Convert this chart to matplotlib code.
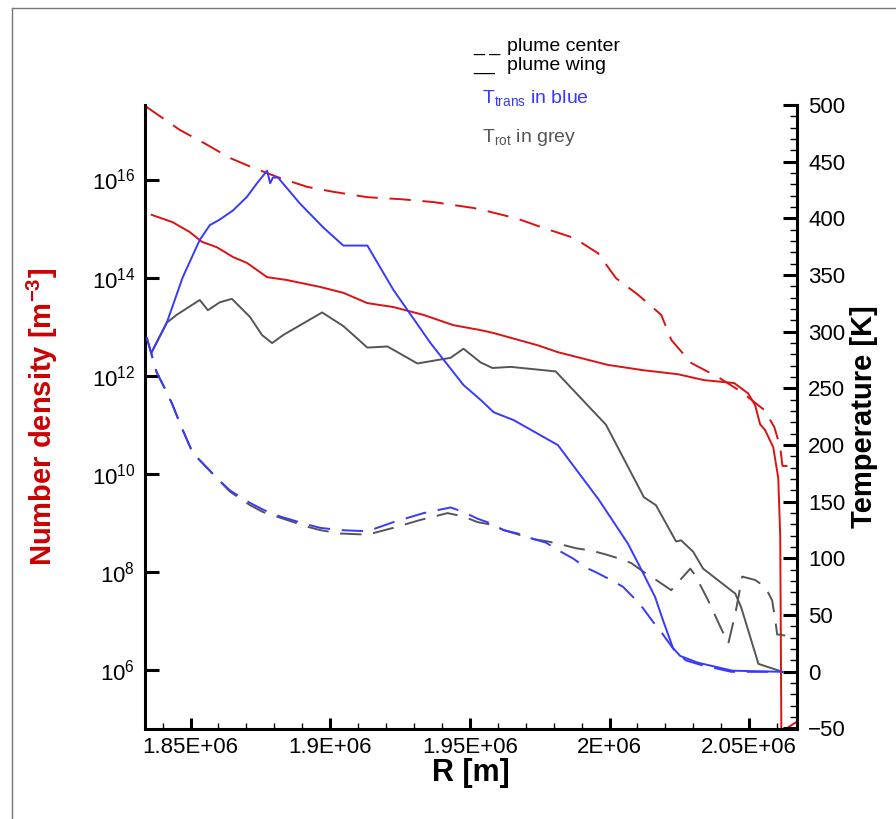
import matplotlib
matplotlib.use('Agg')
import numpy as np
import matplotlib.pyplot as plt
from matplotlib.lines import Line2D
from matplotlib.ticker import MultipleLocator, NullLocator, FixedLocator

plt.rcParams['font.family'] = ['Liberation Sans', 'DejaVu Sans']
plt.rcParams['mathtext.fontset'] = 'custom'
plt.rcParams['mathtext.rm'] = 'Liberation Sans'
plt.rcParams['mathtext.it'] = 'Liberation Sans:italic'
plt.rcParams['mathtext.bf'] = 'Liberation Sans:bold'

# R in units of 1e6 m, density as log10(n [m^-3]), temperatures in K

# number density, plume center (red dashed)
r_center_n = [1.8340, 1.8462, 1.8559, 1.8641, 1.8724, 1.8821, 1.8918, 1.9011, 1.9133, 1.9251,
              1.9370, 1.9513, 1.9574, 1.9671, 1.9765, 1.9872, 1.9958, 2.0023, 2.0102, 2.0185,
              2.0221, 2.0292, 2.0389, 2.0472, 2.0554, 2.0590, 2.0611, 2.0619, 2.0637]
logn_center = [17.49, 17.01, 16.71, 16.44, 16.24, 16.03, 15.85, 15.75, 15.64, 15.60,
               15.54, 15.42, 15.34, 15.20, 15.01, 14.81, 14.50, 13.99, 13.65, 13.24,
               12.73, 12.26, 11.97, 11.67, 11.30, 10.95, 10.54, 10.16, 10.16]

# number density, plume wing (red solid)
r_wing_n = [1.8361, 1.8436, 1.8497, 1.8541, 1.8594, 1.8652, 1.8702, 1.8774, 1.8846, 1.8964,
            1.9047, 1.9133, 1.9226, 1.9334, 1.9441, 1.9538, 1.9585, 1.9743, 1.9815, 1.9994,
            2.0123, 2.0245, 2.0338, 2.0446, 2.0496, 2.0521, 2.0539, 2.0557, 2.0586, 2.0604,
            2.0611, 2.0615, 2.0680]
logn_wing = [15.28, 15.13, 14.93, 14.73, 14.62, 14.42, 14.30, 14.01, 13.95, 13.81,
             13.69, 13.48, 13.40, 13.24, 13.03, 12.93, 12.87, 12.62, 12.48, 12.22,
             12.11, 12.03, 11.91, 11.85, 11.64, 11.40, 11.01, 10.89, 10.54, 9.91,
             8.72, 4.74, 4.98]

# T_trans, plume wing (blue solid)
r_ttrans_wing = [1.8361, 1.8415, 1.8472, 1.8533, 1.8569, 1.8605, 1.8652, 1.8702, 1.8738, 1.8774,
                 1.8785, 1.8795, 1.8813, 1.8892, 1.8975, 1.9047, 1.9133, 1.9226, 1.9359, 1.9477,
                 1.9538, 1.9585, 1.9657, 1.9815, 1.9961, 2.0066, 2.0112, 2.0163, 2.0192, 2.0227,
                 2.0253, 2.0317, 2.0440, 2.0619]
t_trans_wing = [282, 308, 348, 381, 394, 399, 407, 419, 431, 442,
                431, 436, 436, 413, 392, 376, 376, 337, 290, 253,
                240, 229, 222, 200, 152, 113, 91, 66, 45, 21,
                14, 8, 1, 0]

# T_rot, plume wing (grey solid)
r_trot_wing = [1.8361, 1.8415, 1.8451, 1.8533, 1.8562, 1.8605, 1.8648, 1.8713, 1.8756, 1.8792,
               1.8831, 1.8971, 1.9047, 1.9133, 1.9205, 1.9312, 1.9431, 1.9477, 1.9538, 1.9581,
               1.9646, 1.9807, 1.9987, 2.0123, 2.0166, 2.0238, 2.0256, 2.0299, 2.0335, 2.0450,
               2.0471, 2.0533, 2.0619]
t_rot_wing = [282, 308, 315, 328, 319, 326, 329, 313, 297, 290,
              297, 317, 305, 286, 287, 272, 277, 285, 273, 268,
              269, 265, 218, 154, 147, 115, 116, 106, 91, 69,
              57, 7, 0]

# T_rot, plume center (grey dashed)
r_trot_center = [1.8343, 1.8379, 1.8408, 1.8433, 1.8469, 1.8508, 1.8559, 1.8594, 1.8641, 1.8713,
                 1.8759, 1.8820, 1.8918, 1.8964, 1.9036, 1.9133, 1.9226, 1.9323, 1.9420, 1.9477,
                 1.9528, 1.9574, 1.9621, 1.9729, 1.9779, 1.9833, 1.9880, 1.9933, 1.9980, 2.0034,
                 2.0077, 2.0123, 2.0149, 2.0221, 2.0238, 2.0289, 2.0307, 2.0353, 2.0396, 2.0425,
                 2.0450, 2.0475, 2.0521, 2.0557, 2.0582, 2.0593, 2.0600, 2.0629]
t_rot_center = [295, 264, 250, 237, 215, 193, 180, 171, 159, 147,
                141, 136, 128, 125, 122, 121, 127, 134, 140, 137,
                132, 130, 125, 117, 115, 112, 109, 107, 104, 100,
                96, 88, 84, 72, 77, 91, 85, 63, 40, 25,
                51, 84, 81, 75, 63, 46, 33, 32]

# T_trans, plume center (blue dashed)
r_ttrans_center = [1.8343, 1.8379, 1.8408, 1.8433, 1.8469, 1.8508, 1.8559, 1.8594, 1.8641, 1.8713,
                   1.8760, 1.8821, 1.8917, 1.8964, 1.9036, 1.9133, 1.9226, 1.9334, 1.9431, 1.9477,
                   1.9528, 1.9574, 1.9621, 1.9671, 1.9729, 1.9772, 1.9818, 1.9869, 1.9915, 1.9958,
                   2.0005, 2.0048, 2.0088, 2.0120, 2.0156, 2.0185, 2.0235, 2.0274, 2.0328, 2.0436,
                   2.0619]
t_trans_center = [295, 264, 250, 237, 215, 193, 180, 171, 160, 149,
                  143, 137, 130, 127, 125, 124, 132, 140, 145, 141,
                  135, 131, 125, 122, 117, 114, 107, 100, 92, 87,
                  81, 75, 65, 56, 44, 35, 18, 10, 6, 0,
                  0]

x_ticks = [1.85e6, 1.90e6, 1.95e6, 2.00e6, 2.05e6]
x_tick_labels = ['1.85E+06', '1.9E+06', '1.95E+06', '2E+06', '2.05E+06']
n_ticks = [1e6, 1e8, 1e10, 1e12, 1e14, 1e16]

RED = '#dd1111'
BLUE = '#3838ff'
GREY = '#555555'
DASH = (0, (11, 6))
LW = 1.4

W, H = 896, 819
fig = plt.figure(figsize=(W / 100, H / 100), dpi=100)
ax = fig.add_axes([145 / W, 1 - 728.5 / H, (797 - 145) / W, (728.5 - 105) / H])
ax2 = ax.twinx()

mega = 1e6
ax.plot(np.array(r_center_n) * mega, 10.0 ** np.array(logn_center), color=RED, lw=LW, ls=DASH)
ax.plot(np.array(r_wing_n) * mega, 10.0 ** np.array(logn_wing), color=RED, lw=LW)

ax2.plot(np.array(r_trot_center) * mega, t_rot_center, color=GREY, lw=LW, ls=DASH)
ax2.plot(np.array(r_ttrans_center) * mega, t_trans_center, color=BLUE, lw=LW, ls=DASH)
ax2.plot(np.array(r_trot_wing) * mega, t_rot_wing, color=GREY, lw=LW)
ax2.plot(np.array(r_ttrans_wing) * mega, t_trans_wing, color=BLUE, lw=LW)

ax.set_yscale('log')
ax.set_ylim(10 ** 4.806, 10 ** 17.52)
ax.set_xlim(1.8337e6, 2.0671e6)
ax2.set_ylim(-50, 500)

ax.set_xticks(x_ticks)
ax.set_xticklabels(x_tick_labels)
ax.xaxis.set_minor_locator(MultipleLocator(1e4))
ax.yaxis.set_major_locator(FixedLocator(n_ticks))
ax.yaxis.set_minor_locator(NullLocator())
ax2.yaxis.set_major_locator(MultipleLocator(50))
ax2.yaxis.set_minor_locator(MultipleLocator(10))

for a in (ax, ax2):
    a.spines['top'].set_visible(False)
    for s in a.spines.values():
        s.set_linewidth(2.2)
ax.spines['right'].set_visible(False)
ax2.spines['left'].set_visible(False)
ax2.spines['bottom'].set_visible(False)

ax.tick_params(axis='both', which='major', direction='in', length=10, width=2.2,
               labelsize=16, pad=7)
ax.tick_params(axis='both', which='minor', direction='in', length=5, width=1)
ax.tick_params(axis='x', which='major', length=8, pad=6)
ax.tick_params(axis='x', which='minor', length=4)
ax2.tick_params(axis='y', which='major', direction='in', length=10, width=2.2,
                labelsize=16, pad=8)
ax2.tick_params(axis='y', which='minor', direction='in', length=5, width=1)

ax.set_xlabel('R [m]', fontsize=22, fontweight='bold')
ax.xaxis.set_label_coords(0.5, -0.048)
ax.set_ylabel(r'Number density [m$^{\mathbf{-3}}$]', fontsize=21, fontweight='bold', color='#cc0000')
ax.yaxis.set_label_coords(-0.13, 0.5)
ax2.set_ylabel('Temperature [K]', fontsize=21, fontweight='bold')
ax2.yaxis.set_label_coords(1.082, 0.5)

# legend written as plain text, like the original
fig.text(473 / W, 1 - 51 / H, '_ _', fontsize=14, va='baseline')
fig.text(507 / W, 1 - 51 / H, 'plume center', fontsize=14, va='baseline')
fig.text(473 / W, 1 - 70 / H, '__', fontsize=14, va='baseline')
fig.text(507 / W, 1 - 70 / H, 'plume wing', fontsize=14, va='baseline')
fig.text(482 / W, 1 - 103 / H, r'T$_{\mathrm{trans}}$ in blue', fontsize=14, va='baseline', color=BLUE)
fig.text(482 / W, 1 - 142 / H, r'T$_{\mathrm{rot}}$ in grey', fontsize=14, va='baseline', color=GREY)

# thin frame around the figure (left and top edges only visible)
fig.add_artist(Line2D([11.5 / W, 11.5 / W], [0, 1 - 7.5 / H], transform=fig.transFigure,
                      color='#777777', lw=1.0))
fig.add_artist(Line2D([11.5 / W, 1], [1 - 7.5 / H, 1 - 7.5 / H], transform=fig.transFigure,
                      color='#777777', lw=1.0))

fig.savefig('out.png', dpi=100)
